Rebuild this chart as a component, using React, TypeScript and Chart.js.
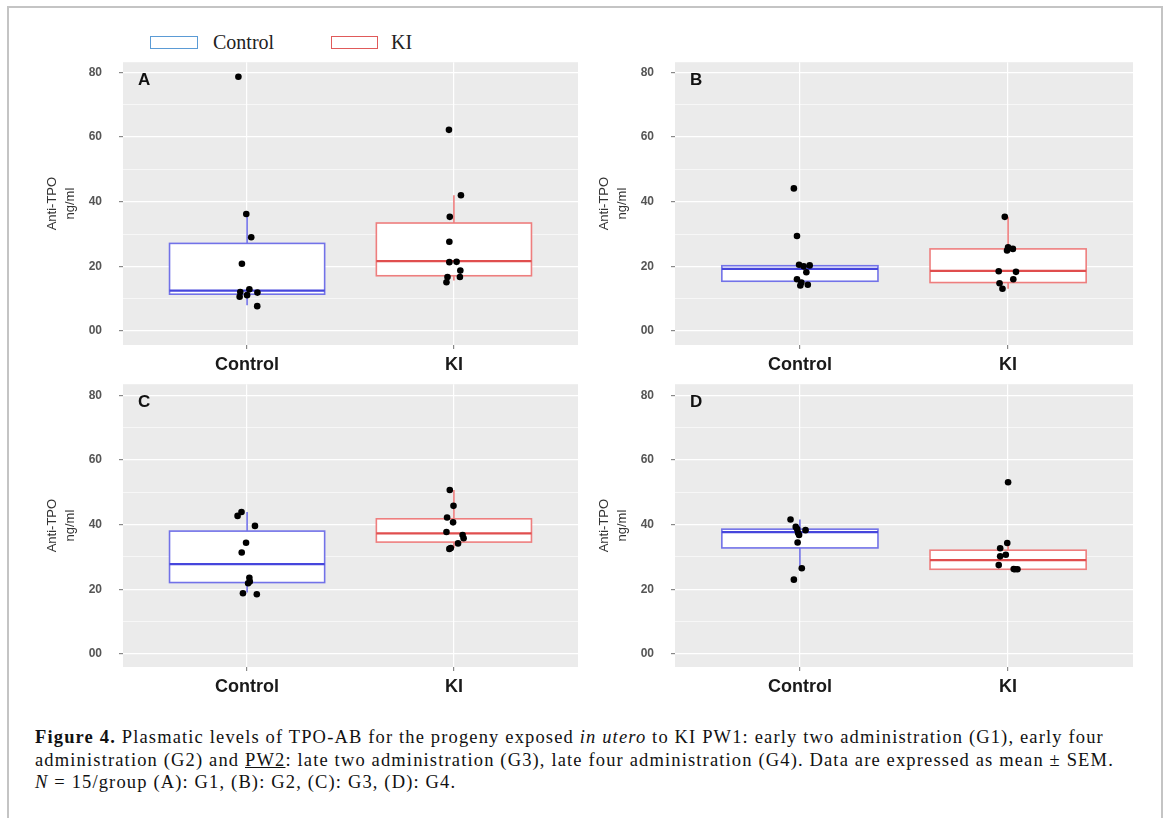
import React, { useEffect, useRef } from "react";
import { Chart, registerables } from "chart.js";

Chart.register(...registerables);

// ---------- data ----------
const categories = ["Control", "KI"];
const yTickValues = [0, 10, 20, 30, 40, 50, 60, 70, 80];
const yMajorLabels: Record<number, string> = { 0: "00", 20: "20", 40: "40", 60: "60", 80: "80" };
const legendLabels = ["Control", "KI"];

// Panel A (G1)
const aControlValues = [78.6, 36.2, 29.0, 20.8, 12.9, 12.1, 11.9, 11.1, 10.6, 7.7];
const aControlJitter = [-0.042, -0.004, 0.02, -0.025, 0.011, -0.033, 0.05, 0, -0.036, 0.049];
const aKIValues = [62.2, 42.0, 35.3, 27.6, 21.3, 21.4, 18.7, 16.7, 16.7, 15.1];
const aKIJitter = [-0.024, 0.034, -0.02, -0.022, -0.022, 0.013, 0.031, -0.031, 0.029, -0.036];
// box stats: [whiskerLow, q1, median, q3, whiskerHigh]
const aControlBox = [8.0, 11.4, 12.5, 27.1, 36.2];
const aKIBox = [15.6, 17.1, 21.6, 33.4, 42.0];

// Panel B (G2)
const bControlValues = [44.1, 29.4, 20.5, 20.3, 20.0, 18.2, 16.0, 15.0, 14.1, 14.3];
const bControlJitter = [-0.029, -0.014, -0.004, 0.047, 0.018, 0.031, -0.014, 0.007, 0.002, 0.038];
const bKIValues = [35.3, 25.9, 25.4, 24.9, 18.5, 18.3, 16.0, 14.8, 13.1];
const bKIJitter = [-0.016, 0, 0.023, -0.005, -0.045, 0.038, 0.025, -0.041, -0.027];
const bControlBox = [14.1, 15.4, 19.2, 20.2, 20.5];
const bKIBox = [13.1, 15.0, 18.6, 25.4, 35.3];

// Panel C (G3)
const cControlValues = [43.9, 42.7, 39.6, 34.4, 31.4, 23.6, 22.4, 21.9, 18.8, 18.5];
const cControlJitter = [-0.027, -0.046, 0.038, -0.005, -0.026, 0.011, 0.013, 0.005, -0.02, 0.047];
const cKIValues = [50.7, 45.8, 42.2, 40.7, 37.7, 36.8, 35.8, 34.2, 32.8, 32.5];
const cKIJitter = [-0.02, -0.002, -0.033, -0.004, -0.036, 0.042, 0.047, 0.02, -0.015, -0.022];
const cControlBox = [19.0, 22.1, 27.8, 38.0, 43.9];
const cKIBox = [32.8, 34.6, 37.3, 41.8, 50.7];

// Panel D (G4)
const dControlValues = [41.6, 39.3, 38.6, 38.3, 37.5, 36.8, 34.5, 26.5, 23.0];
const dControlJitter = [-0.045, -0.02, -0.013, 0.027, -0.009, -0.004, -0.011, 0.009, -0.029];
const dKIValues = [53.1, 34.3, 32.7, 30.7, 30.2, 27.5, 26.3, 26.2, 26.2];
const dKIJitter = [0, -0.004, -0.038, -0.011, -0.038, -0.045, 0.027, 0.045, 0.032];
const dControlBox = [27.0, 32.8, 37.7, 38.6, 41.6];
const dKIBox = [26.2, 26.2, 29.0, 32.1, 34.3];

// ---------- styles ----------
const CONTROL_COLOR = "#7272e8";
const CONTROL_MEDIAN = "#4646dc";
const KI_COLOR = "#ee7e7e";
const KI_MEDIAN = "#e04e4e";
const PANEL_BG = "#ebebeb";
const BOX_HALF = 0.375;

type PanelProps = {
  label: string;
  left: number;
  top: number;
  width: number;
  yMin: number;
  yMax: number;
  controlValues: number[];
  controlJitter: number[];
  kiValues: number[];
  kiJitter: number[];
  controlBox: number[];
  kiBox: number[];
};

const boxPlugin = {
  id: "boxes",
  beforeDraw(chart: any) {
    const { ctx, chartArea } = chart;
    ctx.save();
    ctx.fillStyle = PANEL_BG;
    ctx.fillRect(chartArea.left, chartArea.top, chartArea.right - chartArea.left, chartArea.bottom - chartArea.top);
    ctx.restore();
  },
  beforeDatasetsDraw(chart: any) {
    const { ctx, scales } = chart;
    const xs = scales.x;
    const ys = scales.y;
    const boxes = chart.options.plugins.boxes.boxes as { center: number; stats: number[]; color: string; median: string }[];
    ctx.save();
    for (const b of boxes) {
      const [wl, q1, med, q3, wh] = b.stats;
      const xc = xs.getPixelForValue(b.center);
      const x0 = xs.getPixelForValue(b.center - BOX_HALF);
      const x1 = xs.getPixelForValue(b.center + BOX_HALF);
      ctx.strokeStyle = b.color;
      ctx.lineWidth = 1.6;
      ctx.beginPath();
      ctx.moveTo(xc, ys.getPixelForValue(q3));
      ctx.lineTo(xc, ys.getPixelForValue(wh));
      ctx.moveTo(xc, ys.getPixelForValue(q1));
      ctx.lineTo(xc, ys.getPixelForValue(wl));
      ctx.stroke();
      const yTop = ys.getPixelForValue(q3);
      const yBot = ys.getPixelForValue(q1);
      ctx.fillStyle = "#ffffff";
      ctx.fillRect(x0, yTop, x1 - x0, yBot - yTop);
      ctx.strokeRect(x0, yTop, x1 - x0, yBot - yTop);
      ctx.strokeStyle = b.median;
      ctx.lineWidth = 2.2;
      ctx.beginPath();
      const ym = ys.getPixelForValue(med);
      ctx.moveTo(x0, ym);
      ctx.lineTo(x1, ym);
      ctx.stroke();
    }
    const ca = chart.chartArea;
    ctx.fillStyle = "#111";
    ctx.font = "bold 17px 'Liberation Sans', Arial, sans-serif";
    ctx.textBaseline = "alphabetic";
    ctx.fillText(chart.options.plugins.boxes.label, ca.left + 15, ca.top + 23);
    ctx.restore();
  },
};

function Panel(p: PanelProps) {
  const ref = useRef<HTMLCanvasElement | null>(null);
  const height = 347;
  useEffect(() => {
    if (!ref.current) return;
    const ctrlPts = p.controlValues.map((v, i) => ({ x: 1 + p.controlJitter[i], y: v }));
    const kiPts = p.kiValues.map((v, i) => ({ x: 2 + p.kiJitter[i], y: v }));
    const chart = new Chart(ref.current, {
      type: "scatter",
      data: {
        datasets: [
          { label: categories[0], data: ctrlPts, backgroundColor: "#000", borderWidth: 0, pointRadius: 3.3 },
          { label: categories[1], data: kiPts, backgroundColor: "#000", borderWidth: 0, pointRadius: 3.3 },
        ],
      },
      options: {
        animation: false,
        responsive: false,
        maintainAspectRatio: false,
        layout: { padding: { top: 8, left: 0, right: 0, bottom: 0 } },
        plugins: {
          legend: { display: false },
          tooltip: { enabled: false },
          // @ts-ignore
          boxes: {
            label: p.label,
            boxes: [
              { center: 1, stats: p.controlBox, color: CONTROL_COLOR, median: CONTROL_MEDIAN },
              { center: 2, stats: p.kiBox, color: KI_COLOR, median: KI_MEDIAN },
            ],
          },
        },
        scales: {
          x: {
            type: "linear",
            min: 0.4,
            max: 2.6,
            afterBuildTicks: (s: any) => {
              s.ticks = categories.map((_, i) => ({ value: i + 1 }));
            },
            afterFit: (s: any) => {
              s.height = 40;
            },
            ticks: {
              callback: (v: any) => categories[Math.round(Number(v)) - 1] ?? "",
              font: { family: "'Liberation Sans', Arial, sans-serif", size: 18, weight: "bold" },
              color: "#1a1a1a",
              padding: 5,
              maxRotation: 0,
            },
            grid: { color: "#ffffff", lineWidth: 1.2, tickColor: "#888", tickLength: 4 },
            border: { display: false },
          },
          y: {
            type: "linear",
            min: p.yMin,
            max: p.yMax,
            afterBuildTicks: (s: any) => {
              s.ticks = yTickValues.map((v) => ({ value: v }));
            },
            afterFit: (s: any) => {
              s.width = 94;
            },
            ticks: {
              callback: (v: any) => yMajorLabels[Number(v)] ?? "",
              font: { family: "'Liberation Sans Narrow', 'Arial Narrow', 'Liberation Sans', sans-serif", size: 12, weight: "bold" },
              color: "#555",
              padding: 17,
            },
            grid: {
              color: "#ffffff",
              lineWidth: (c: any) => (c.tick && c.tick.value % 20 === 0 ? 1.2 : 0.6),
              tickColor: (c: any) => (c.tick && c.tick.value % 20 === 0 ? "#888" : "rgba(0,0,0,0)"),
              tickLength: 4,
            },
            border: { display: false },
            title: {
              display: true,
              text: ["Anti-TPO", "ng/ml"],
              color: "#333",
              font: { family: "'Liberation Sans', Arial, sans-serif", size: 13, lineHeight: 1.35 },
              padding: { top: 15, bottom: 0 },
            },
          },
        },
      } as any,
      plugins: [boxPlugin as any],
    });
    return () => chart.destroy();
  }, []);
  return (
    <canvas
      ref={ref}
      width={p.width}
      height={height}
      style={{ position: "absolute", left: p.left, top: p.top, width: p.width, height }}
    />
  );
}

const serif = "'Liberation Serif', 'Times New Roman', serif";

export default function App() {
  return (
    <div
      style={{
        position: "absolute",
        left: 0,
        top: 0,
        width: 1168,
        height: 818,
        overflow: "hidden",
        background: "#fff",
      }}
    >
      <div
        style={{
          position: "absolute",
          left: 7,
          top: 6,
          width: 1156,
          height: 900,
          border: "2px solid #c4c4c4",
          boxSizing: "border-box",
        }}
      />
      {/* legend */}
      <div style={{ position: "absolute", left: 150, top: 36, width: 46, height: 11, border: "1.5px solid #5b9bd5" }} />
      <div style={{ position: "absolute", left: 213, top: 31, fontFamily: serif, fontSize: 20, lineHeight: "23px", color: "#222" }}>
        {legendLabels[0]}
      </div>
      <div style={{ position: "absolute", left: 331, top: 36, width: 45, height: 11, border: "1.5px solid #e05a5a" }} />
      <div style={{ position: "absolute", left: 391, top: 31, fontFamily: serif, fontSize: 20, lineHeight: "23px", color: "#222" }}>
        {legendLabels[1]}
      </div>

      <Panel label="A" left={29} top={38} width={553} yMin={-4.3} yMax={83.1}
        controlValues={aControlValues} controlJitter={aControlJitter} kiValues={aKIValues} kiJitter={aKIJitter}
        controlBox={aControlBox} kiBox={aKIBox} />
      <Panel label="B" left={581} top={38} width={556} yMin={-4.3} yMax={83.1}
        controlValues={bControlValues} controlJitter={bControlJitter} kiValues={bKIValues} kiJitter={bKIJitter}
        controlBox={bControlBox} kiBox={bKIBox} />
      <Panel label="C" left={29} top={360} width={553} yMin={-4.0} yMax={83.4}
        controlValues={cControlValues} controlJitter={cControlJitter} kiValues={cKIValues} kiJitter={cKIJitter}
        controlBox={cControlBox} kiBox={cKIBox} />
      <Panel label="D" left={581} top={360} width={556} yMin={-4.0} yMax={83.4}
        controlValues={dControlValues} controlJitter={dControlJitter} kiValues={dKIValues} kiJitter={dKIJitter}
        controlBox={dControlBox} kiBox={dKIBox} />

      {/* caption */}
      <div style={{ position: "absolute", left: 35, top: 726, fontFamily: serif, fontSize: 18.5, letterSpacing: "1.15px", lineHeight: "22.5px", color: "#111", whiteSpace: "nowrap" }}>
        <div>
          <b>Figure 4.</b> Plasmatic levels of TPO-AB for the progeny exposed <i>in utero</i> to KI PW1: early two administration (G1), early four
        </div>
        <div>
          administration (G2) and <u>PW2</u>: late two administration (G3), late four administration (G4). Data are expressed as mean ± SEM.
        </div>
        <div>
          <i>N</i> = 15/group (A): G1, (B): G2, (C): G3, (D): G4.
        </div>
      </div>
    </div>
  );
}
